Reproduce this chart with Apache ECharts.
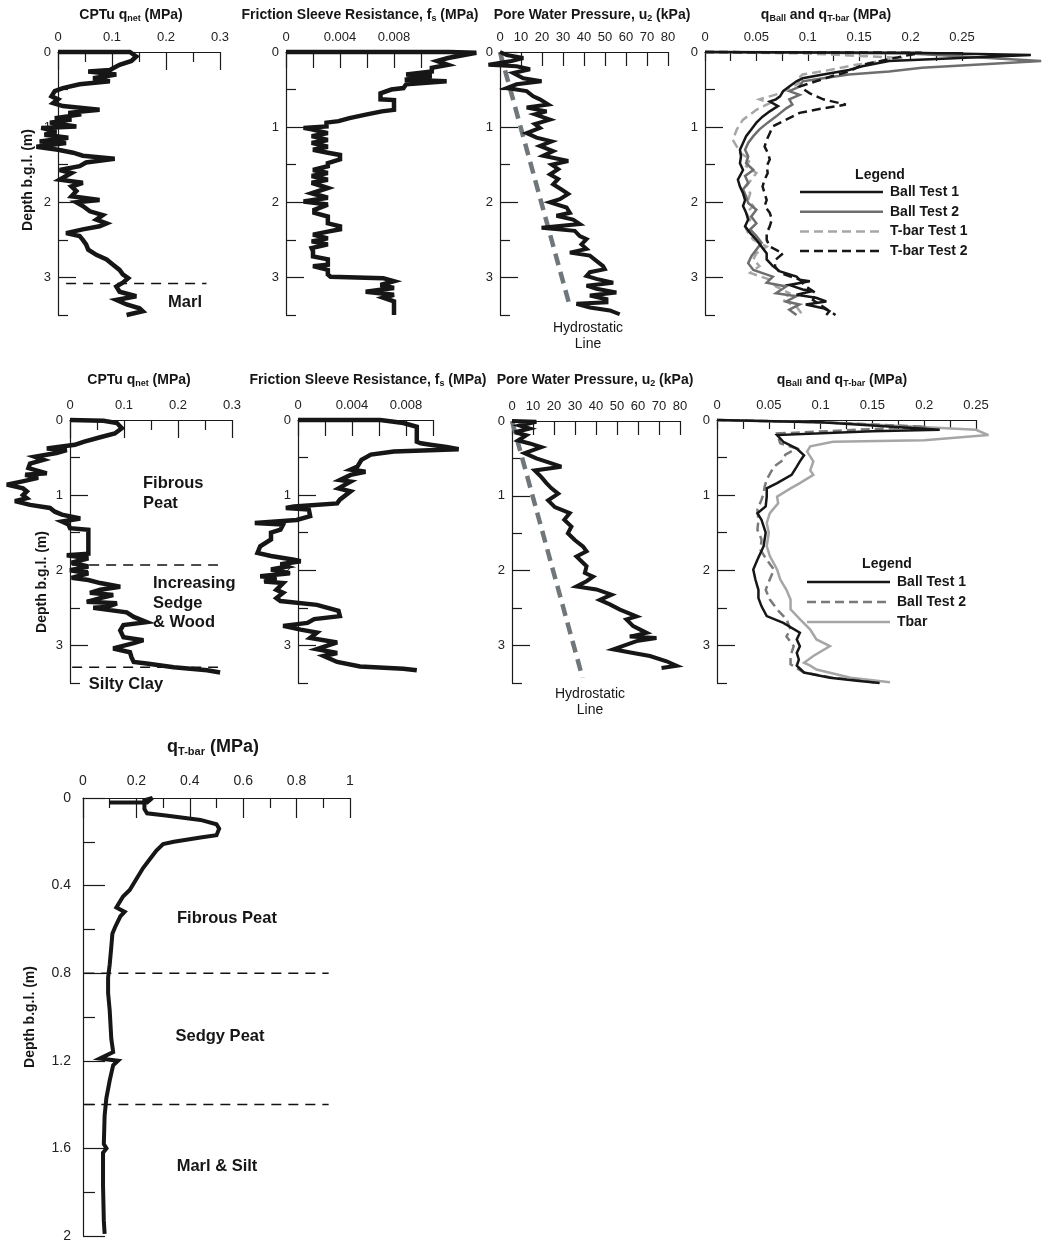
<!DOCTYPE html>
<html>
<head>
<meta charset="UTF-8">
<script src="https://cdn.jsdelivr.net/npm/echarts@6/dist/echarts.min.js"></script>
<title>CPTu, ball and T-bar profiles</title>
<style>html,body{margin:0;background:#fff;}</style>
</head>
<body>
<div id="main" style="width:1045px;height:1245px;"></div>
<script type="text/javascript">
// ---- site A (top row): [value, depth m] ----
var qnetA = [[0,0],[0.133,0],[0.145,0.06],[0.136,0.12],[0.114,0.17],[0.096,0.24],[0.056,0.26],[0.108,0.30],[0.065,0.35],[0.096,0.39],[0.040,0.43],[0.009,0.48],[-0.006,0.52],[-0.012,0.59],[0,0.63],[-0.009,0.68],[0.009,0.72],[0.077,0.77],[0.019,0.81],[0.043,0.83],[-0.006,0.88],[0.025,0.90],[-0.015,0.94],[0.034,0.99],[-0.031,1.01],[-0.003,1.06],[-0.025,1.10],[0.019,1.14],[-0.034,1.19],[0.015,1.21],[-0.040,1.26],[0,1.30],[0.028,1.34],[0.046,1.38],[0.105,1.42],[0.052,1.47],[0.040,1.52],[0.003,1.57],[0.025,1.61],[0.015,1.65],[0.003,1.70],[0.046,1.74],[0.025,1.79],[0.034,1.85],[0.025,1.92],[0.077,1.97],[0.034,2.00],[0.046,2.05],[0.059,2.12],[0.083,2.17],[0.071,2.23],[0.090,2.28],[0.077,2.32],[0.046,2.36],[0.015,2.41],[0.040,2.45],[0.046,2.50],[0.052,2.56],[0.056,2.63],[0.071,2.70],[0.090,2.76],[0.102,2.83],[0.114,2.90],[0.120,2.96],[0.130,3.01],[0.120,3.07],[0.108,3.12],[0.114,3.19],[0.145,3.25],[0.108,3.30],[0.127,3.36],[0.151,3.41],[0.157,3.45],[0.127,3.50]];
var fsA = [[0,0],[0.0121,0],[0.0141,0.01],[0.0120,0.08],[0.0112,0.12],[0.0120,0.17],[0.0108,0.21],[0.0108,0.26],[0.0089,0.30],[0.0108,0.32],[0.0088,0.37],[0.0119,0.39],[0.0089,0.43],[0.0087,0.48],[0.0078,0.50],[0.0070,0.55],[0.0070,0.63],[0.0080,0.64],[0.0080,0.77],[0.0071,0.79],[0.0060,0.83],[0.0047,0.88],[0.0039,0.92],[0.0030,0.94],[0.0030,0.99],[0.0013,1.01],[0.0019,1.03],[0.0031,1.08],[0.0019,1.12],[0.0031,1.17],[0.0019,1.21],[0.0031,1.26],[0.0020,1.30],[0.0031,1.34],[0.0040,1.37],[0.0040,1.43],[0.0031,1.48],[0.0031,1.52],[0.0020,1.57],[0.0031,1.61],[0.0019,1.65],[0.0031,1.70],[0.0019,1.74],[0.0031,1.81],[0.0019,1.88],[0.0031,1.94],[0.0013,1.99],[0.0031,2.03],[0.0021,2.10],[0.0021,2.14],[0.0031,2.19],[0.0031,2.28],[0.0040,2.32],[0.0040,2.36],[0.0031,2.39],[0.0020,2.43],[0.0031,2.48],[0.0019,2.52],[0.0031,2.56],[0.0019,2.61],[0.0020,2.65],[0.0020,2.72],[0.0031,2.76],[0.0031,2.83],[0.0020,2.85],[0.0031,2.90],[0.0031,2.96],[0.0033,2.99],[0.0072,3.01],[0.0080,3.05],[0.0070,3.10],[0.0080,3.14],[0.0059,3.19],[0.0080,3.23],[0.0072,3.27],[0.0080,3.32],[0.0080,3.50]];
var u2A = [[0,0],[3.2,0.04],[11.1,0.08],[5.5,0.12],[-5.5,0.17],[7.9,0.19],[14.3,0.23],[6.3,0.28],[11.1,0.35],[19.8,0.39],[7.9,0.43],[3.2,0.48],[12.7,0.52],[15.8,0.59],[19.0,0.63],[23.0,0.70],[12.7,0.74],[22.2,0.79],[16.6,0.83],[23.8,0.90],[16.6,0.96],[19.0,1.01],[12.7,1.08],[17.4,1.14],[24.6,1.19],[19.0,1.25],[25.3,1.32],[20.6,1.38],[32.5,1.45],[24.6,1.50],[27.7,1.56],[23.8,1.63],[27.7,1.69],[25.3,1.76],[29.3,1.83],[32.5,1.89],[28.5,1.96],[23.8,2.00],[31.7,2.07],[33.3,2.14],[26.9,2.18],[34.8,2.23],[38.0,2.29],[19.8,2.34],[35.6,2.38],[38.0,2.45],[41.2,2.49],[38.8,2.56],[41.2,2.62],[33.3,2.67],[42.8,2.71],[45.9,2.78],[49.1,2.85],[49.9,2.89],[42.8,2.93],[41.2,2.98],[45.9,3.02],[53.9,3.07],[41.2,3.11],[45.9,3.15],[55.4,3.20],[42.8,3.24],[50.7,3.29],[50.7,3.33],[36.4,3.35],[42.8,3.40],[52.3,3.44],[57.0,3.49]];
var hydroA = [[0,0],[33.4,3.4]];
var ball1A = [[0,0],[0.2,0.01],[0.317,0.04],[0.179,0.12],[0.153,0.19],[0.140,0.24],[0.115,0.30],[0.095,0.35],[0.089,0.39],[0.082,0.46],[0.076,0.52],[0.073,0.59],[0.069,0.63],[0.063,0.66],[0.071,0.72],[0.063,0.79],[0.056,0.86],[0.050,0.94],[0.045,1.03],[0.040,1.12],[0.037,1.21],[0.034,1.30],[0.035,1.39],[0.034,1.48],[0.037,1.57],[0.032,1.70],[0.034,1.79],[0.037,1.88],[0.039,1.97],[0.037,2.05],[0.040,2.14],[0.042,2.23],[0.039,2.32],[0.044,2.41],[0.050,2.50],[0.055,2.59],[0.060,2.68],[0.060,2.76],[0.066,2.85],[0.073,2.92],[0.089,2.99],[0.092,3.03],[0.102,3.05],[0.082,3.10],[0.095,3.16],[0.105,3.18],[0.089,3.23],[0.108,3.27],[0.118,3.32],[0.098,3.36],[0.115,3.41],[0.121,3.45],[0.118,3.50]];
var ball2A = [[0,0],[0.2,0.02],[0.327,0.12],[0.211,0.21],[0.179,0.26],[0.140,0.30],[0.115,0.35],[0.095,0.39],[0.092,0.46],[0.082,0.52],[0.092,0.57],[0.082,0.63],[0.085,0.70],[0.079,0.75],[0.069,0.86],[0.061,0.94],[0.053,1.03],[0.047,1.12],[0.042,1.21],[0.039,1.30],[0.042,1.39],[0.040,1.48],[0.047,1.57],[0.039,1.65],[0.042,1.74],[0.037,1.83],[0.040,1.92],[0.042,2.01],[0.050,2.10],[0.045,2.19],[0.050,2.28],[0.044,2.36],[0.050,2.45],[0.055,2.54],[0.050,2.63],[0.045,2.72],[0.042,2.81],[0.047,2.90],[0.066,2.99],[0.060,3.07],[0.079,3.12],[0.069,3.21],[0.089,3.25],[0.079,3.32],[0.092,3.36],[0.082,3.43],[0.089,3.50]];
var tbar1A = [[0,0],[0.1,0.02],[0.192,0.08],[0.147,0.17],[0.121,0.24],[0.095,0.30],[0.089,0.37],[0.092,0.41],[0.082,0.48],[0.073,0.55],[0.053,0.63],[0.063,0.68],[0.050,0.77],[0.037,0.90],[0.031,1.03],[0.027,1.17],[0.031,1.26],[0.034,1.34],[0.044,1.43],[0.040,1.52],[0.050,1.61],[0.045,1.70],[0.040,1.79],[0.044,1.88],[0.042,1.97],[0.047,2.05],[0.040,2.14],[0.044,2.23],[0.039,2.32],[0.042,2.41],[0.047,2.50],[0.060,2.59],[0.050,2.68],[0.047,2.76],[0.053,2.85],[0.044,2.94],[0.063,3.03],[0.069,3.12],[0.082,3.21],[0.076,3.30],[0.089,3.39],[0.095,3.50]];
var tbar2A = [[0,0],[0.211,0.01],[0.195,0.05],[0.153,0.17],[0.140,0.26],[0.124,0.32],[0.108,0.39],[0.092,0.46],[0.102,0.55],[0.115,0.63],[0.137,0.70],[0.115,0.75],[0.092,0.81],[0.079,0.90],[0.066,0.99],[0.063,1.08],[0.060,1.17],[0.058,1.26],[0.061,1.34],[0.063,1.43],[0.060,1.52],[0.061,1.61],[0.058,1.70],[0.056,1.79],[0.058,1.88],[0.060,1.97],[0.058,2.05],[0.063,2.14],[0.065,2.23],[0.063,2.32],[0.060,2.41],[0.060,2.50],[0.063,2.59],[0.076,2.68],[0.069,2.76],[0.068,2.85],[0.073,2.94],[0.092,3.03],[0.098,3.12],[0.108,3.21],[0.105,3.30],[0.115,3.39],[0.127,3.50]];
var layersA = [3.08];
var legendNamesA = ['Ball Test 1', 'Ball Test 2', 'T-bar Test 1', 'T-bar Test 2'];

// ---- site B (middle row) ----
var qnetB = [[0,0],[0.062,0.01],[0.087,0.04],[0.096,0.11],[0.083,0.18],[0.056,0.23],[0.025,0.29],[0.009,0.33],[-0.043,0.38],[-0.006,0.40],[-0.025,0.44],[-0.065,0.49],[-0.049,0.53],[-0.074,0.58],[-0.077,0.64],[-0.043,0.71],[-0.083,0.73],[-0.059,0.77],[-0.090,0.82],[-0.117,0.86],[-0.087,0.91],[-0.080,0.95],[-0.087,1.00],[-0.080,1.04],[-0.102,1.08],[-0.074,1.13],[-0.037,1.17],[-0.028,1.22],[-0.015,1.26],[0.019,1.31],[-0.015,1.35],[-0.003,1.39],[0,1.44],[0.034,1.46],[0.034,1.50],[0.034,1.78],[-0.006,1.80],[0.034,1.84],[0.003,1.90],[0.034,1.95],[0,2.00],[0.034,2.04],[0.003,2.10],[0.034,2.13],[0.056,2.17],[0.093,2.22],[0.056,2.26],[0.037,2.30],[0.080,2.33],[0.056,2.37],[0.031,2.42],[0.087,2.44],[0.068,2.49],[0.043,2.50],[0.105,2.56],[0.118,2.62],[0.142,2.69],[0.099,2.73],[0.093,2.80],[0.099,2.89],[0.136,2.93],[0.118,2.97],[0.080,3.04],[0.111,3.09],[0.114,3.16],[0.118,3.22],[0.142,3.24],[0.192,3.29],[0.254,3.33],[0.278,3.36]];
var fsB = [[0,0],[0.0061,0],[0.0078,0.04],[0.0088,0.09],[0.0088,0.29],[0.0091,0.31],[0.0098,0.33],[0.0110,0.36],[0.0119,0.39],[0.0103,0.40],[0.0071,0.42],[0.0054,0.46],[0.0047,0.53],[0.0044,0.62],[0.0039,0.66],[0.0050,0.69],[0.0039,0.73],[0.0031,0.80],[0.0039,0.82],[0.0030,0.91],[0.0039,0.95],[0.0031,1.06],[0.0029,1.11],[-0.0003,1.15],[-0.0009,1.17],[0.0008,1.19],[0.0009,1.28],[-0.0001,1.33],[-0.0032,1.37],[-0.0011,1.39],[-0.0013,1.46],[-0.0020,1.50],[-0.0020,1.59],[-0.0028,1.68],[-0.0030,1.77],[-0.0020,1.81],[-0.0003,1.86],[0.0002,1.88],[-0.0013,1.92],[-0.0008,1.95],[-0.0020,1.99],[-0.0006,2.04],[-0.0028,2.08],[-0.0016,2.10],[-0.0025,2.15],[-0.0011,2.17],[-0.0016,2.26],[-0.0011,2.30],[-0.0016,2.37],[-0.0013,2.41],[0.0014,2.46],[0.0030,2.54],[0.0031,2.61],[0.0012,2.65],[0.0007,2.70],[-0.0011,2.74],[0.0002,2.79],[0.0014,2.83],[0.0009,2.90],[0.0029,2.96],[0.0014,3.05],[0.0029,3.10],[0.0019,3.14],[0.0029,3.22],[0.0046,3.28],[0.0078,3.31],[0.0088,3.33]];
var u2B = [[0,0],[11.6,0.01],[3.7,0.06],[8.4,0.10],[1.3,0.15],[6.8,0.19],[2.9,0.26],[8.4,0.30],[14.0,0.35],[6.0,0.43],[11.6,0.50],[23.5,0.61],[10.8,0.66],[14.0,0.75],[16.4,0.83],[18.8,0.90],[22.0,0.97],[17.2,1.06],[20.4,1.15],[27.5,1.23],[24.9,1.32],[28.3,1.41],[26.6,1.50],[29.9,1.59],[33.9,1.68],[35.5,1.74],[30.7,1.81],[35.5,1.94],[34.7,2.03],[38.6,2.08],[35.5,2.14],[30.7,2.21],[40.2,2.25],[47.4,2.32],[41.8,2.39],[46.6,2.45],[51.4,2.52],[59.3,2.61],[54.5,2.65],[57.7,2.74],[64.1,2.83],[56.1,2.88],[68.8,2.90],[59.3,2.94],[48.2,3.05],[57.7,3.10],[65.7,3.14],[73.6,3.21],[78.4,3.27],[71.2,3.30]];
var hydroB = [[0,0],[33.6,3.43]];
var ball1B = [[0,0],[0.1,0.03],[0.215,0.13],[0.15,0.15],[0.058,0.20],[0.064,0.29],[0.077,0.38],[0.084,0.47],[0.080,0.55],[0.077,0.62],[0.072,0.73],[0.058,0.84],[0.048,0.91],[0.048,0.98],[0.048,1.02],[0.047,1.15],[0.039,1.24],[0.043,1.33],[0.047,1.50],[0.045,1.68],[0.039,1.86],[0.035,1.99],[0.037,2.12],[0.040,2.26],[0.040,2.37],[0.043,2.48],[0.048,2.61],[0.064,2.70],[0.080,2.83],[0.077,2.92],[0.080,3.01],[0.077,3.10],[0.079,3.19],[0.077,3.27],[0.084,3.36],[0.109,3.43],[0.135,3.47],[0.157,3.50]];
var ball2B = [[0,0],[0.1,0.03],[0.202,0.09],[0.15,0.12],[0.058,0.18],[0.061,0.31],[0.077,0.38],[0.066,0.46],[0.064,0.53],[0.055,0.62],[0.048,0.79],[0.046,0.89],[0.045,0.98],[0.043,1.06],[0.039,1.19],[0.040,1.33],[0.039,1.46],[0.043,1.59],[0.042,1.73],[0.048,1.86],[0.055,1.99],[0.051,2.12],[0.047,2.26],[0.051,2.39],[0.058,2.52],[0.067,2.65],[0.071,2.79],[0.067,2.88],[0.074,3.01],[0.071,3.14],[0.071,3.25],[0.084,3.36],[0.112,3.43],[0.141,3.47],[0.154,3.50]];
var tbarB = [[0,0],[0.12,0.04],[0.25,0.13],[0.262,0.20],[0.2,0.27],[0.112,0.29],[0.090,0.35],[0.087,0.42],[0.093,0.55],[0.090,0.67],[0.093,0.73],[0.080,0.84],[0.071,0.91],[0.058,1.02],[0.059,1.11],[0.051,1.24],[0.048,1.37],[0.050,1.50],[0.048,1.68],[0.051,1.81],[0.058,1.99],[0.061,2.12],[0.067,2.26],[0.071,2.39],[0.071,2.52],[0.080,2.65],[0.090,2.79],[0.096,2.92],[0.109,3.01],[0.093,3.14],[0.084,3.23],[0.090,3.27],[0.096,3.32],[0.129,3.43],[0.167,3.49]];
var layersB = [1.93, 3.29];
var legendNamesB = ['Ball Test 1', 'Ball Test 2', 'Tbar'];

// ---- site C (bottom) ----
var tbarC = [[0.10,0.02],[0.24,0.02],[0.26,0.0],[0.23,0.01],[0.23,0.05],[0.24,0.07],[0.31,0.08],[0.44,0.10],[0.50,0.12],[0.51,0.14],[0.50,0.17],[0.44,0.18],[0.34,0.20],[0.30,0.21],[0.275,0.24],[0.25,0.28],[0.225,0.32],[0.20,0.37],[0.175,0.42],[0.15,0.45],[0.125,0.50],[0.156,0.52],[0.14,0.54],[0.12,0.59],[0.11,0.62],[0.106,0.68],[0.10,0.76],[0.094,0.82],[0.094,0.89],[0.10,0.97],[0.106,1.10],[0.113,1.16],[0.0625,1.19],[0.131,1.20],[0.113,1.22],[0.10,1.29],[0.0875,1.37],[0.081,1.45],[0.078,1.58],[0.088,1.60],[0.075,1.62],[0.075,1.77],[0.078,1.93],[0.081,1.99]];
var layersC = [0.8, 1.4];

var depthTicks = [0, 1, 2, 3];
var depthMinor = [0.5, 1.5, 2.5, 3.5];
var depthTicksC = [0, 0.4, 0.8, 1.2, 1.6, 2];
var depthMinorC = [0.2, 0.6, 1.0, 1.4, 1.8];
var fsLabels = [0, 0.004, 0.008];

var FONT = '"Liberation Sans", Arial, Helvetica, sans-serif';
var INK = '#1a1a1a';

var grids = [
  {left: 58,  top: 52,  width: 162, height: 263},
  {left: 286, top: 52,  width: 135, height: 263},
  {left: 500, top: 52,  width: 168, height: 263},
  {left: 705, top: 52,  width: 257, height: 263},
  {left: 70,  top: 420, width: 162, height: 263},
  {left: 298, top: 420, width: 135, height: 263},
  {left: 512, top: 421, width: 168, height: 262},
  {left: 717, top: 420, width: 259, height: 263},
  {left: 83,  top: 798, width: 267, height: 438}
];

function xAx(gi, max, interval, tickLen, minorLen, labels, fs) {
  var ax = {
    gridIndex: gi, type: 'value', position: 'top', min: 0, max: max, interval: interval,
    axisLine: {show: true, onZero: false, lineStyle: {color: INK, width: 1.2}},
    axisTick: {show: true, inside: true, length: tickLen, lineStyle: {color: INK, width: 1.2}},
    axisLabel: {color: '#222', fontSize: fs || 13, margin: 8, fontFamily: FONT},
    splitLine: {show: false}
  };
  if (minorLen) ax.minorTick = {show: true, splitNumber: 2, length: minorLen, lineStyle: {color: INK, width: 1.2}};
  if (labels) ax.axisLabel.customValues = labels;
  return ax;
}

function yAx(gi, max, major, minor, majorLen, minorLen, margin, fs) {
  return [{
    gridIndex: gi, type: 'value', inverse: true, min: 0, max: max, position: 'left',
    axisLine: {show: true, onZero: false, lineStyle: {color: INK, width: 1.2}},
    axisTick: {show: true, inside: true, length: majorLen, customValues: major, lineStyle: {color: INK, width: 1.2}},
    axisLabel: {customValues: major, color: '#222', fontSize: fs || 13, margin: margin, fontFamily: FONT},
    splitLine: {show: false}
  }, {
    gridIndex: gi, type: 'value', inverse: true, min: 0, max: max, position: 'left',
    axisLine: {show: false}, axisLabel: {show: false},
    axisTick: {show: true, inside: true, length: minorLen, customValues: minor, lineStyle: {color: INK, width: 1.2}},
    splitLine: {show: false}
  }];
}

var xAxes = [
  xAx(0, 0.3, 0.1, 18, 10),
  xAx(1, 0.01, 0.002, 16, 0, fsLabels),
  xAx(2, 80, 10, 14, 0),
  xAx(3, 0.25, 0.05, 9, 9),
  xAx(4, 0.3, 0.1, 18, 10),
  xAx(5, 0.01, 0.002, 16, 0, fsLabels),
  xAx(6, 80, 10, 14, 0),
  xAx(7, 0.25, 0.05, 9, 9),
  xAx(8, 1, 0.2, 20, 10, null, 14)
];
xAxes[8].axisLabel.margin = 10;

var yAxes = [];
for (var i = 0; i < 8; i++) yAxes = yAxes.concat(yAx(i, 3.5, depthTicks, depthMinor, 18, 10, 7));
yAxes = yAxes.concat(yAx(8, 2, depthTicksC, depthMinorC, 22, 12, 12, 14));

// profiles drawn as custom polylines so that values beyond the axis range are not clipped
var series = [];
function addLine(name, data, gi, color, width, dash, z) {
  series.push({
    name: name, type: 'custom', data: data, xAxisIndex: gi, yAxisIndex: gi * 2,
    encode: {x: 0, y: 1}, clip: false, silent: true, z: z || 2, animation: false,
    renderItem: function (params, api) {
      if (params.dataIndex !== 0) return null;
      var pts = data.map(function (p) { return api.coord(p); });
      return {
        type: 'polyline', shape: {points: pts},
        style: {stroke: color, fill: null, lineWidth: width, lineDash: dash || null,
          lineJoin: 'miter', miterLimit: 4, lineCap: 'butt'}
      };
    }
  });
}
function addLayers(depths, gi, x0, x1) {
  depths.forEach(function (d) {
    addLine('layer', [[x0, d], [x1, d]], gi, '#111', 1.5, [10, 7], 1);
  });
}

var BLACK = '#161616', MID = '#6e6e6e', LIGHT = '#a6a6a6', HYD = '#6f777b';
var DASH = [9, 5];

addLine('qnetA', qnetA, 0, BLACK, 4.5);
addLayers(layersA, 0, 0.015, 0.275);
addLine('fsA', fsA, 1, BLACK, 4.5);
addLine('hydroA', hydroA, 2, HYD, 4.5, [12, 7]);
addLine('u2A', u2A, 2, BLACK, 4);
addLine('T-bar Test 1', tbar1A, 3, LIGHT, 2.5, DASH);
addLine('Ball Test 2', ball2A, 3, MID, 2.5);
addLine('Ball Test 1', ball1A, 3, BLACK, 2.5);
addLine('T-bar Test 2', tbar2A, 3, BLACK, 2.5, DASH);

addLine('qnetB', qnetB, 4, BLACK, 4.5);
addLayers(layersB, 4, 0.004, 0.274);
addLine('fsB', fsB, 5, BLACK, 4.5);
addLine('hydroB', hydroB, 6, HYD, 4.5, [12, 7]);
addLine('u2B', u2B, 6, BLACK, 4);
addLine('Tbar', tbarB, 7, LIGHT, 2.5);
addLine('Ball Test 2', ball2B, 7, '#7a7a7a', 2.5, DASH);
addLine('Ball Test 1', ball1B, 7, BLACK, 2.5);

addLine('tbarC', tbarC, 8, BLACK, 4);
addLayers(layersC, 8, 0.005, 0.92);

// annotations
var graphics = [];
function txt(x, y, text, font, align, extra) {
  var g = {type: 'text', x: x, y: y, silent: true,
    style: {text: text, font: font, fill: '#161616', textAlign: align || 'center', textVerticalAlign: 'middle'}};
  if (extra) for (var k in extra) g[k] = extra[k];
  graphics.push(g);
}
function richTitle(x, y, text, size) {
  var sub = Math.round(size * 0.62);
  graphics.push({type: 'text', x: x, y: y, silent: true, style: {
    text: text, textAlign: 'center', textVerticalAlign: 'middle', fill: '#161616',
    rich: {
      b: {fontFamily: FONT, fontWeight: 'bold', fontSize: size, lineHeight: size + 2, fill: '#161616'},
      s: {fontFamily: FONT, fontWeight: 'bold', fontSize: sub, lineHeight: sub, verticalAlign: 'bottom', fill: '#161616'}
    }
  }});
}
function legendBox(names, styles, x0, x1, y0, step) {
  names.forEach(function (n, k) {
    var st = styles[k], y = y0 + k * step;
    graphics.push({type: 'line', silent: true, shape: {x1: x0, y1: y, x2: x1, y2: y},
      style: {stroke: st[0], lineWidth: 2.5, lineDash: st[1] || null}});
    txt(x1 + 7, y, n, BOLD14, 'left');
  });
}
var BOLD14 = 'bold 14px ' + FONT, BOLD16 = 'bold 16.5px ' + FONT, REG14 = '14px ' + FONT;

richTitle(131, 15, '{b|CPTu q}{s|net}{b| (MPa)}', 14);
richTitle(360, 15, '{b|Friction Sleeve Resistance, f}{s|s}{b| (MPa)}', 14);
richTitle(592, 15, '{b|Pore Water Pressure, u}{s|2}{b| (kPa)}', 14);
richTitle(826, 15, '{b|q}{s|Ball}{b| and q}{s|T-bar}{b| (MPa)}', 14);
richTitle(139, 380, '{b|CPTu q}{s|net}{b| (MPa)}', 14);
richTitle(368, 380, '{b|Friction Sleeve Resistance, f}{s|s}{b| (MPa)}', 14);
richTitle(595, 380, '{b|Pore Water Pressure, u}{s|2}{b| (kPa)}', 14);
richTitle(842, 380, '{b|q}{s|Ball}{b| and q}{s|T-bar}{b| (MPa)}', 14);
richTitle(213, 747, '{b|q}{s|T-bar}{b| (MPa)}', 18);

txt(28, 180, 'Depth b.g.l. (m)', BOLD14, 'center', {rotation: Math.PI / 2});
txt(42, 582, 'Depth b.g.l. (m)', BOLD14, 'center', {rotation: Math.PI / 2});
txt(30, 1017, 'Depth b.g.l. (m)', BOLD14, 'center', {rotation: Math.PI / 2});

txt(185, 302, 'Marl', BOLD16);
txt(588, 328, 'Hydrostatic', REG14);
txt(588, 344, 'Line', REG14);
txt(880, 175, 'Legend', BOLD14);
legendBox(legendNamesA, [[BLACK], [MID], [LIGHT, DASH], [BLACK, DASH]], 800, 883, 192, 19.7);

txt(143, 483, 'Fibrous', BOLD16, 'left');
txt(143, 503, 'Peat', BOLD16, 'left');
txt(153, 583, 'Increasing', BOLD16, 'left');
txt(153, 603, 'Sedge', BOLD16, 'left');
txt(153, 622, '& Wood', BOLD16, 'left');
txt(126, 684, 'Silty Clay', BOLD16);
txt(590, 694, 'Hydrostatic', REG14);
txt(590, 710, 'Line', REG14);
txt(887, 564, 'Legend', BOLD14);
legendBox(legendNamesB, [[BLACK], ['#7a7a7a', DASH], [LIGHT]], 807, 890, 582, 20);

txt(227, 918, 'Fibrous Peat', BOLD16);
txt(220, 1036, 'Sedgy Peat', BOLD16);
txt(217, 1166, 'Marl & Silt', BOLD16);

var myChart = echarts.init(document.getElementById('main'));
myChart.setOption({
  animation: false,
  backgroundColor: '#fff',
  textStyle: {fontFamily: FONT},
  grid: grids,
  xAxis: xAxes,
  yAxis: yAxes,
  series: series,
  graphic: graphics
});
</script>
</body>
</html>
